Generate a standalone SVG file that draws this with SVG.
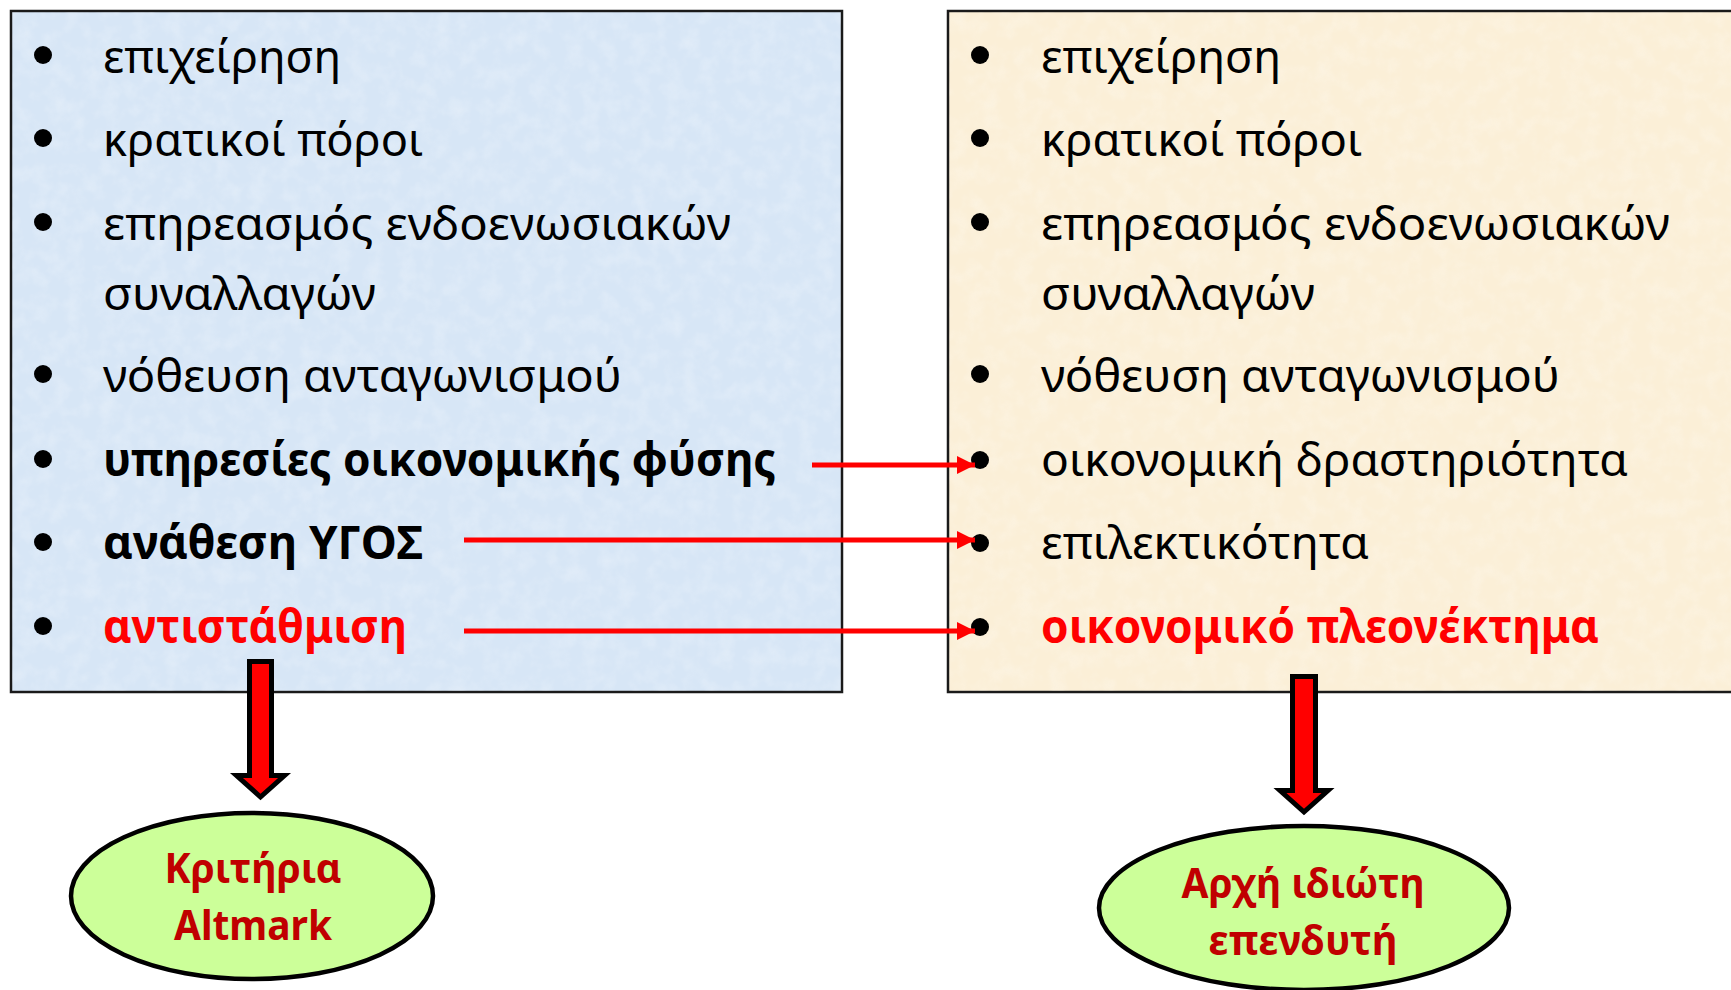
<svg xmlns="http://www.w3.org/2000/svg" width="1731" height="990" viewBox="0 0 1731 990">
<style>
  .item { font-family: "Noto Sans", "Open Sans", sans-serif; font-size: 46px; fill: #000; }
  .bold { font-weight: bold; }
  .red { fill: #FF0000; }
  .oval-text { font-family: "Noto Sans", "Open Sans", sans-serif; font-size: 42px; font-weight: bold; fill: #C00000; text-anchor: middle; }
  .box { stroke: #1a1a1a; stroke-width: 2.5; }
  .bullet { fill: #000; }
  .oval { fill: #CCFF99; stroke: #000; stroke-width: 4.5; }
  .link { stroke: #FF0000; stroke-width: 5; fill: none; }
  .block { fill: #FF0000; stroke: #000; stroke-width: 5; stroke-linejoin: miter; }
</style>
<defs>
  <marker id="head" viewBox="0 0 10 10" refX="10" refY="5" markerWidth="4" markerHeight="3.6" markerUnits="strokeWidth" orient="auto">
    <path d="M0,0 L10,5 L0,10 Z" fill="#FF0000"/>
  </marker>
  <filter id="grain" x="0" y="0" width="100%" height="100%">
    <feTurbulence type="fractalNoise" baseFrequency="0.06" numOctaves="3" seed="4" result="n"/>
    <feColorMatrix type="matrix" values="0 0 0 0 1  0 0 0 0 1  0 0 0 0 1  0 0 0 -0.9 0.55" />
  </filter>
</defs>
<rect width="1731" height="990" fill="#FFFFFF"/>

<g id="left-box">
  <rect class="box" x="11" y="11" width="831" height="681" fill="#D7E6F6"/>
  <rect x="12" y="12" width="829" height="679" filter="url(#grain)" opacity="0.5"/>
  <circle class="bullet" cx="43" cy="55" r="9"/>
  <text class="item" x="103" y="73" textLength="238" lengthAdjust="spacingAndGlyphs">επιχείρηση</text>
  <circle class="bullet" cx="43" cy="138" r="9"/>
  <text class="item" x="103" y="156" textLength="320" lengthAdjust="spacingAndGlyphs">κρατικοί πόροι</text>
  <circle class="bullet" cx="43" cy="222" r="9"/>
  <text class="item" x="103" y="240" textLength="628" lengthAdjust="spacingAndGlyphs">επηρεασμός ενδοενωσιακών</text>
  <text class="item" x="103" y="310" textLength="273" lengthAdjust="spacingAndGlyphs">συναλλαγών</text>
  <circle class="bullet" cx="43" cy="374" r="9"/>
  <text class="item" x="103" y="392" textLength="519" lengthAdjust="spacingAndGlyphs">νόθευση ανταγωνισμού</text>
  <circle class="bullet" cx="43" cy="459" r="9"/>
  <text class="item bold" x="103" y="476" textLength="673" lengthAdjust="spacingAndGlyphs">υπηρεσίες οικονομικής φύσης</text>
  <circle class="bullet" cx="43" cy="542" r="9"/>
  <text class="item bold" x="103" y="559" textLength="320" lengthAdjust="spacingAndGlyphs">ανάθεση ΥΓΟΣ</text>
  <circle class="bullet" cx="43" cy="626" r="9"/>
  <text class="item bold red" x="103" y="643" textLength="304" lengthAdjust="spacingAndGlyphs">αντιστάθμιση</text>
</g>

<g id="right-box">
  <rect class="box" x="948" y="11" width="800" height="681" fill="#FBEFD7"/>
  <rect x="949" y="12" width="790" height="679" filter="url(#grain)" opacity="0.5"/>
  <circle class="bullet" cx="980" cy="55" r="9"/>
  <text class="item" x="1041" y="73" textLength="240" lengthAdjust="spacingAndGlyphs">επιχείρηση</text>
  <circle class="bullet" cx="980" cy="138" r="9"/>
  <text class="item" x="1041" y="156" textLength="321" lengthAdjust="spacingAndGlyphs">κρατικοί πόροι</text>
  <circle class="bullet" cx="980" cy="222" r="9"/>
  <text class="item" x="1041" y="240" textLength="629" lengthAdjust="spacingAndGlyphs">επηρεασμός ενδοενωσιακών</text>
  <text class="item" x="1041" y="310" textLength="274" lengthAdjust="spacingAndGlyphs">συναλλαγών</text>
  <circle class="bullet" cx="980" cy="374" r="9"/>
  <text class="item" x="1041" y="392" textLength="519" lengthAdjust="spacingAndGlyphs">νόθευση ανταγωνισμού</text>
  <circle class="bullet" cx="980" cy="460" r="9"/>
  <text class="item" x="1041" y="476" textLength="587" lengthAdjust="spacingAndGlyphs">οικονομική δραστηριότητα</text>
  <circle class="bullet" cx="980" cy="543" r="9"/>
  <text class="item" x="1041" y="559" textLength="328" lengthAdjust="spacingAndGlyphs">επιλεκτικότητα</text>
  <circle class="bullet" cx="980" cy="627" r="9"/>
  <text class="item bold red" x="1041" y="643" textLength="558" lengthAdjust="spacingAndGlyphs">οικονομικό πλεονέκτημα</text>
</g>

<g id="oval-altmark">
  <ellipse class="oval" cx="252" cy="896" rx="181" ry="83"/>
  <text class="oval-text" x="253" y="883" textLength="177" lengthAdjust="spacingAndGlyphs">Κριτήρια</text>
  <text class="oval-text" x="253" y="940" textLength="158" lengthAdjust="spacingAndGlyphs">Altmark</text>
</g>

<g id="oval-investor">
  <ellipse class="oval" cx="1304" cy="908" rx="205" ry="82"/>
  <text class="oval-text" x="1303" y="898" textLength="243" lengthAdjust="spacingAndGlyphs">Αρχή ιδιώτη</text>
  <text class="oval-text" x="1303" y="955" textLength="189" lengthAdjust="spacingAndGlyphs">επενδυτή</text>
</g>

<g id="connectors">
  <line class="link" x1="812" y1="465" x2="975" y2="465" marker-end="url(#head)"/>
  <line class="link" x1="464" y1="540" x2="975" y2="540" marker-end="url(#head)"/>
  <line class="link" x1="464" y1="631" x2="975" y2="631" marker-end="url(#head)"/>
  <path class="block" d="M249.5,661.5 H271.5 V775.5 H284.5 L260.5,797 L236.5,775.5 H249.5 Z"/>
  <path class="block" d="M1292.5,676.5 H1315.5 V790.5 H1328 L1304,812 L1280,790.5 H1292.5 Z"/>
</g>
</svg>
